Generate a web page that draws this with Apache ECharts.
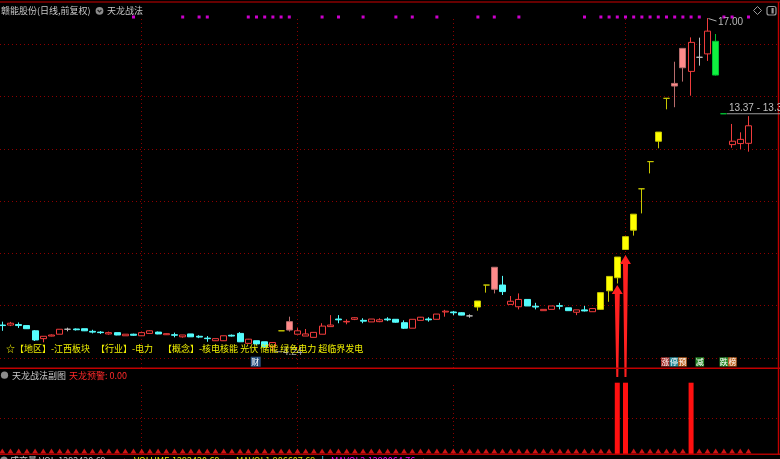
<!DOCTYPE html>
<html><head><meta charset="utf-8">
<script src="https://cdn.jsdelivr.net/npm/echarts@6/dist/echarts.min.js"></script>
<style>html,body{margin:0;padding:0;background:#000;overflow:hidden}#c{width:780px;height:459px}</style>
</head><body><div id="c"></div>
<script>
// ---- data ----
const opens = [5.26,5.26,5.28,5.24,5.04,4.74,4.84,4.91,5.10,5.11,
 5.12,5.02,4.99,4.92,4.97,4.85,4.91,4.85,4.94,4.99,
 4.89,4.89,4.81,4.92,4.83,4.76,4.66,4.66,4.87,4.94,
 4.56,4.66,4.62,4.43,5.04,5.39,4.91,4.84,4.79,4.91,
 5.20,5.49,5.38,5.48,5.44,5.38,5.39,5.49,5.48,5.35,
 5.14,5.44,5.49,5.48,5.76,5.76,5.73,5.61,5.95,6.79,
 7.47,6.79,6.05,5.96,6.24,5.98,5.81,5.86,6.00,5.92,
 5.75,5.84,5.77,5.86,6.57,7.07,8.15,8.89,10.47,11.51,
 12.29,13.93,14.50,15.84,14.96,15.50,15.63,16.11,13.34,12.16,
 12.20,12.21];
const closes = [5.24,5.33,5.24,5.12,4.69,4.83,4.88,5.10,5.10,5.08,
 5.04,4.99,4.97,4.97,4.88,4.91,4.87,4.97,5.04,4.92,
 4.93,4.87,4.88,4.81,4.80,4.74,4.74,4.85,4.84,4.62,
 4.72,4.54,4.43,4.59,5.04,5.07,5.04,4.92,4.98,5.22,
 5.26,5.46,5.40,5.54,5.41,5.49,5.46,5.46,5.37,5.14,
 5.48,5.56,5.46,5.68,5.79,5.73,5.64,5.61,6.18,6.79,
 6.63,6.54,6.17,6.24,5.99,5.95,5.86,5.99,5.98,5.81,
 5.84,5.80,5.89,6.50,7.12,7.86,8.64,9.50,10.47,11.51,
 12.64,13.93,14.40,15.10,16.07,15.50,16.50,14.82,13.34,12.29,
 12.36,12.88];
const lows = [5.04,5.22,5.15,5.11,4.65,4.60,4.83,4.91,5.02,5.05,
 5.03,4.94,4.92,4.89,4.87,4.85,4.85,4.84,4.94,4.91,
 4.88,4.79,4.78,4.81,4.76,4.62,4.65,4.65,4.82,4.61,
 4.54,4.50,4.38,4.24,5.04,5.01,4.91,4.84,4.79,4.91,
 5.20,5.33,5.29,5.45,5.33,5.38,5.37,5.41,5.35,5.11,
 5.14,5.44,5.39,5.48,5.58,5.64,5.63,5.54,5.81,6.50,
 6.47,6.41,6.05,5.86,5.99,5.86,5.81,5.86,5.86,5.81,
 5.64,5.78,5.77,5.84,6.15,6.85,8.13,8.68,9.53,11.06,
 12.02,13.51,13.59,14.57,14.03,15.18,15.36,14.80,13.34,12.04,
 11.99,11.89];
const highs = [5.39,5.38,5.36,5.24,5.07,4.83,4.90,5.10,5.16,5.13,
 5.12,5.08,5.03,5.01,4.97,4.91,4.93,4.97,5.06,5.01,
 4.94,4.97,4.88,4.92,4.87,4.84,4.74,4.85,4.90,4.99,
 4.73,4.66,4.62,4.60,5.04,5.58,5.14,5.11,4.98,5.33,
 5.64,5.64,5.48,5.56,5.52,5.49,5.52,5.56,5.48,5.44,
 5.48,5.57,5.56,5.68,5.84,5.80,5.75,5.67,6.18,6.79,
 7.47,7.14,6.37,6.47,6.24,6.11,5.86,5.99,6.11,5.92,
 5.84,5.99,5.89,6.50,7.12,7.86,8.64,9.50,10.47,11.51,
 12.64,13.93,15.33,15.84,16.26,16.25,17.00,16.39,13.34,12.95,
 12.63,13.25];
const days = opens.map((_, i) => i);
const limitUpIdx = [34,58,59,73,74,75,76,77,78,79,80,81];   // 涨停
const brokenIdx = [35,60,82,83];                            // 炸板
const limitDownIdx = [87,88];                               // 跌停
const dotIdx = [16,22,24,25,30,31,32,33,34,35,39,41,44,48,50,53,58,60,63,71,73,74,75,76,77,78,79,80,81,82,83,84,85,88,89,91];
const warnIdx = [75,76,84];          // 天龙预警 bars
const arrowIdx = [75,76];
const arrowTip = [6.79,7.94];
const monthStarts = [17,36,55,76];
const priceGrid = [4,6,8,10,12,14,16];
const lastRangeText = '13.37 - 13.34';
const conceptText = ['☆【地区】-江西板块','【行业】-电力','【概念】-核电核能 光伏 储能 绿色电力 超临界发电'];
const volText = ['成交量 VOL:1292420.69','VOLUME:1292420.69','MAVOL1:986607.69','MAVOL2:1290064.76'];

// ---- chart ----
const FONT = '"Noto Sans CJK SC","Noto Sans",sans-serif';
const X_MIN = -0.28, X_MAX = 94.6;
const warnValues = days.map(i => warnIdx.includes(i) ? 1 : 0);

function styleFor(i){
  const o = opens[i], c = closes[i];
  let s;
  if (limitUpIdx.includes(i)) s = {color:'#ffff00', borderColor:'#c8c800'};
  else if (brokenIdx.includes(i)) s = {color:'#ff8a8a', borderColor:'#b86c6c'};
  else if (limitDownIdx.includes(i)) s = {color:'#10f040', borderColor:'#00c030'};
  else if (c > o) s = {color:'#000000', borderColor:'#f03c3c'};
  else if (c < o) s = {color:'#54fcfc', borderColor:'#54fcfc'};
  else s = {color:'#c0c0c0', borderColor:'#c0c0c0'};
  return {color:s.color, color0:s.color, borderColor:s.borderColor, borderColor0:s.borderColor, borderWidth:1};
}
const gridLineStyle = {color:'#8c0000', type:[1,3], width:1};
const mkX = gi => ({type:'value', gridIndex:gi, min:X_MIN, max:X_MAX, show:false});

const chart = echarts.init(document.getElementById('c'), null, {renderer:'canvas'});
const option = {
  backgroundColor:'#000',
  animation:false,
  tooltip:{show:false},
  grid:[
    {left:0, width:778, top:17, height:351},
    {left:0, width:778, top:382.7, height:71.3},
    {left:0, width:778, top:12, height:10}
  ],
  xAxis:[mkX(0), mkX(1), mkX(2)],
  yAxis:[
    {type:'value', gridIndex:0, min:3.6176, max:17.0402, show:false},
    {type:'value', gridIndex:1, min:0, max:1, show:false},
    {type:'value', gridIndex:2, min:0, max:1, show:false}
  ],
  series:[
    {type:'line', xAxisIndex:0, yAxisIndex:0, data:[], z:1, silent:true,
     markLine:{silent:true, z:1, symbol:['none','none'], label:{show:false}, lineStyle:gridLineStyle, animation:false,
       data:[...priceGrid.map(v => ({yAxis:v})), ...monthStarts.map(v => ({xAxis:v}))]}},
    {type:'candlestick', xAxisIndex:0, yAxisIndex:0, barWidth:6.6, z:3,
     encode:{x:0, y:[1,2,3,4]},
     data: days.map(i => ({value:[i, opens[i], closes[i], lows[i], highs[i]], itemStyle:styleFor(i)}))},
    {type:'custom', xAxisIndex:0, yAxisIndex:0, z:4, silent:true, clip:false,
     data: arrowIdx.map((k, j) => [k, arrowTip[j]]),
     renderItem:(params, api) => {
       const tip = api.coord([api.value(0), api.value(1)]);
       const base = api.coord([api.value(0), 3.6176]);
       const x = tip[0], y = tip[1], yb = base[1] + 9;
       return {type:'polygon', shape:{points:[[x,y],[x+5.5,y+9],[x+2.5,y+9],[x+1,yb],[x-1,yb],[x-2.5,y+9],[x-5.5,y+9]]},
               style:{fill:'#ff2020'}};
     }},
    {type:'bar', xAxisIndex:1, yAxisIndex:1, barWidth:5, z:3,
     data: days.map(i => [i, warnValues[i]]),
     itemStyle:{color:'#ff1010'},
     markLine:{silent:true, z:1, symbol:['none','none'], label:{show:false}, lineStyle:gridLineStyle, animation:false,
       data:[{yAxis:0.5}, ...monthStarts.map(v => ({xAxis:v}))]}},
    {type:'scatter', xAxisIndex:1, yAxisIndex:1, z:3, symbol:'triangle', symbolSize:[6,5], symbolOffset:[0,-3],
     data: days.filter(i => warnValues[i] === 0).map(i => [i, 0]), itemStyle:{color:'#ff1a1a'}},
    {type:'scatter', xAxisIndex:2, yAxisIndex:2, z:3, symbol:'rect', symbolSize:3,
     data: dotIdx.map(i => [i, 0.5]), itemStyle:{color:'#ff00ff'}}
  ]
};
chart.setOption(option);

// ---- annotations placed through the chart's own scales ----
const P = (i, v) => chart.convertToPixel({gridIndex:0}, [i, v]);
let hiI = 0, loI = 0;
days.forEach(i => { if (highs[i] > highs[hiI]) hiI = i; if (lows[i] < lows[loI]) loI = i; });
const hp = P(hiI, highs[hiI]), lp = P(loI, lows[loI]);
const lastI = limitDownIdx[limitDownIdx.length - 1];
const rp = P(lastI, closes[lastI]);

function txt(x, y, text, fill, size, extra){
  return Object.assign({type:'text', x:x, y:y, silent:true, z:100,
    style:{text:text, fill:fill, fontSize:size || 9, fontFamily:FONT, verticalAlign:'middle', align:'left'}}, extra || {});
}
function numTxt(x, y, text, fill){
  return {type:'text', x:x, y:y, silent:true, z:100,
    style:{text:text, fill:fill, fontSize:10, fontFamily:'"Liberation Sans",sans-serif', verticalAlign:'middle', align:'left'}};
}
function rect(x, y, w, h, fill, z){ return {type:'rect', silent:true, z:z || 90, shape:{x:x, y:y, width:w, height:h}, style:{fill:fill}}; }
function line(x1, y1, x2, y2, stroke, w){ return {type:'line', silent:true, z:95, shape:{x1:x1,y1:y1,x2:x2,y2:y2}, style:{stroke:stroke, lineWidth:w || 1}}; }

const els = [];
// frame lines
els.push(rect(0, 1.2, 780, 1.6, '#8a0000'));
els.push(rect(0, 367.4, 780, 1.5, '#c00000'));
els.push(rect(0, 453.5, 780, 1.5, '#b00000'));
els.push(rect(777.8, 2, 1.4, 453, '#c00000'));
// title
els.push(txt(1, 11, '赣能股份(日线,前复权)', '#c8c8c8', 9));
els.push({type:'circle', silent:true, z:100, shape:{cx:99.5, cy:10.8, r:3.9}, style:{fill:'#8c8c8c'}});
els.push({type:'polyline', silent:true, z:101, shape:{points:[[97.6,10],[99.5,12],[101.4,10]]}, style:{stroke:'#202020', lineWidth:1.2, fill:null}});
els.push(txt(107, 11, '天龙战法', '#c8c8c8', 9));
// top-right icons
els.push({type:'polygon', silent:true, z:100, shape:{points:[[757.5,6.5],[761.5,10.5],[757.5,14.5],[753.5,10.5]]}, style:{stroke:'#9a9a9a', fill:null, lineWidth:1}});
els.push({type:'rect', silent:true, z:100, shape:{x:767, y:6.5, width:9, height:8.5, r:2}, style:{stroke:'#9a9a9a', fill:null, lineWidth:1.2}});
els.push(rect(771.5, 8, 2.2, 5.5, '#9a9a9a', 101));
// high / low markers
els.push(line(hp[0]+1, hp[1]+0.5, hp[0]+9, hp[1]+3, '#b0b0b0'));
els.push(numTxt(hp[0]+10.5, hp[1]+4, highs[hiI].toFixed(2), '#b8b8b8'));
els.push(line(lp[0]+2, lp[1], lp[0]+9, lp[1], '#a0a0a0'));
els.push(numTxt(lp[0]+10, lp[1]+0.5, lows[loI].toFixed(2), '#a8a8a8'));
// last range line
els.push(line(rp[0]+3, rp[1], 780, rp[1], '#9a9a9a'));
els.push(numTxt(rp[0]+5, rp[1]-6, lastRangeText, '#c0c0c0'));
// concept text
els.push(txt(6, 348.5, conceptText[0], '#f0f000', 9));
els.push(txt(96, 348.5, conceptText[1], '#f0f000', 9));
els.push(txt(163, 348.5, conceptText[2], '#f0f000', 9));
// 财 tag
els.push(rect(250.7, 356.7, 10, 10, '#2c5282'));
els.push(txt(251.2, 361.8, '财', '#ffffff', 8, {z:101}));
// event tags
[[661,'涨','#a8302c'],[669.6,'停','#2a8c9a'],[678.2,'预','#c06420'],[695.5,'减','#2a8a2a'],[719.5,'跌','#2a8a2a'],[728.1,'榜','#c06420']]
  .forEach(t => { els.push(rect(t[0], 357.3, 8.6, 9.2, t[2])); els.push(txt(t[0]+0.3, 362, t[1], '#ffffff', 8, {z:101})); });
// sub chart labels
els.push({type:'circle', silent:true, z:100, shape:{cx:4.5, cy:375.2, r:3.6}, style:{fill:'#8c8c8c'}});
els.push(txt(12, 375.5, '天龙战法副图', '#c8c8c8', 9));
els.push(txt(69, 375.5, '天龙预警: 0.00', '#ff2a2a', 9));
// bottom volume line (clipped)
els.push({type:'circle', silent:true, z:100, shape:{cx:4, cy:460, r:3.6}, style:{fill:'#8c8c8c'}});
els.push(txt(10, 461, volText[0], '#c8c8c8', 9));
els.push(txt(121, 461, '▲', '#ff2020', 7));
els.push(txt(134, 461, volText[1], '#f0f000', 9));
els.push(txt(221, 461, '▲', '#ff2020', 7));
els.push(txt(236, 461, volText[2], '#e0e000', 9));
els.push(rect(322, 456, 1.2, 4, '#30a0b0'));
els.push(txt(331, 461, volText[3], '#ff00ff', 9));
els.push(txt(420, 461, '▲', '#ff2020', 7));

chart.setOption({graphic:{elements:els}});
</script></body></html>
